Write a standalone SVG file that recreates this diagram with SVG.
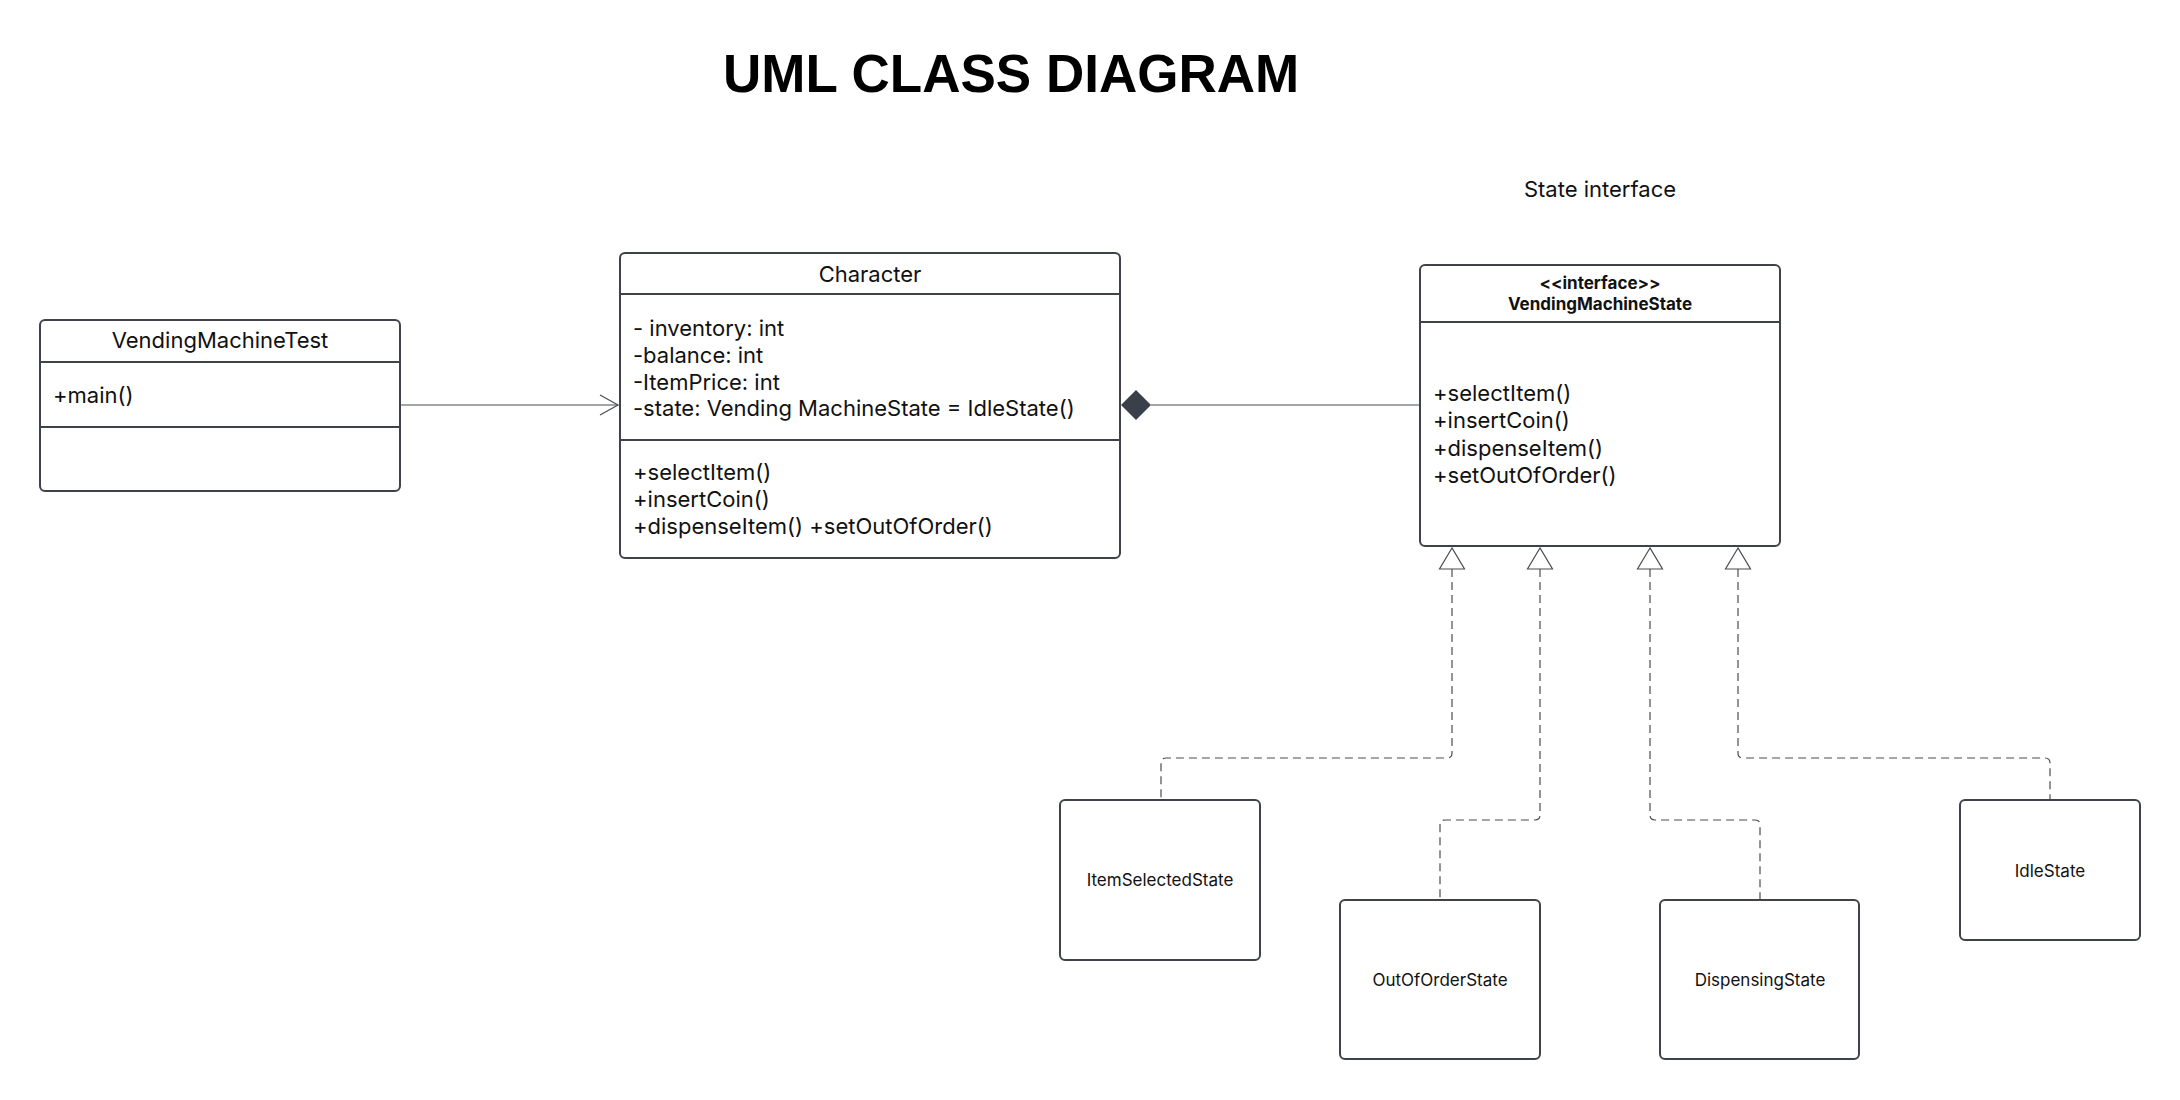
<svg xmlns="http://www.w3.org/2000/svg" width="2180" height="1100" viewBox="0 0 2180 1100">
<style>
.box{fill:#fff;stroke:#3f4249;stroke-width:2}
.div{stroke:#3f4249;stroke-width:2}
.t{font-family:Inter,"Noto Sans","Liberation Sans",sans-serif;font-size:22px;fill:#111}
.c{text-anchor:middle}
.s{font-size:17px}
.b{font-weight:bold;font-size:17px}
.con{fill:none;stroke:#4a4d52;stroke-width:1.2}
.dash{stroke-dasharray:8 5}
.tri{fill:#fff;stroke:#4a4d52;stroke-width:1.2}
</style>
<rect width="2180" height="1100" fill="#fff"/>
<text x="723" y="92" font-family="Liberation Sans,Arial,sans-serif" font-weight="bold" font-size="53" fill="#000">UML CLASS DIAGRAM</text>
<text class="t c" x="1600" y="197">State interface</text>

<g id="connectors">
  <path class="con" d="M400,405 H618"/>
  <path class="con" d="M600,395 L618,405 L600,415"/>
  <polygon points="1121,405 1136,390 1151,405 1136,420" fill="#3a404a"/>
  <path class="con" d="M1151,405 H1420"/>
  <path class="con dash" d="M1452,569 V753 Q1452,758 1447,758 H1166 Q1161,758 1161,763 V800"/>
  <path class="con dash" d="M1540,569 V815 Q1540,820 1535,820 H1445 Q1440,820 1440,825 V900"/>
  <path class="con dash" d="M1650,569 V815 Q1650,820 1655,820 H1755 Q1760,820 1760,825 V900"/>
  <path class="con dash" d="M1738,569 V753 Q1738,758 1743,758 H2045 Q2050,758 2050,763 V800"/>
  <polygon class="tri" points="1452,548 1439.5,569 1464.5,569"/>
  <polygon class="tri" points="1540,548 1527.5,569 1552.5,569"/>
  <polygon class="tri" points="1650,548 1637.5,569 1662.5,569"/>
  <polygon class="tri" points="1738,548 1725.5,569 1750.5,569"/>
</g>

<g id="VendingMachineTest">
  <rect class="box" x="40" y="320" width="360" height="171" rx="5"/>
  <line class="div" x1="40" y1="362" x2="400" y2="362"/>
  <line class="div" x1="40" y1="427" x2="400" y2="427"/>
  <text class="t c" x="220" y="348">VendingMachineTest</text>
  <text class="t" x="53" y="403">+main()</text>
</g>

<g id="Character">
  <rect class="box" x="620" y="253" width="500" height="305" rx="5"/>
  <line class="div" x1="620" y1="294" x2="1120" y2="294"/>
  <line class="div" x1="620" y1="440" x2="1120" y2="440"/>
  <text class="t c" x="870" y="282">Character</text>
  <text class="t" x="633" y="336">- inventory: int</text>
  <text class="t" x="633" y="363">-balance: int</text>
  <text class="t" x="633" y="390">-ItemPrice: int</text>
  <text class="t" x="633" y="416">-state: Vending MachineState = IdleState()</text>
  <text class="t" x="633" y="480">+selectItem()</text>
  <text class="t" x="633" y="507">+insertCoin()</text>
  <text class="t" x="633" y="534">+dispenseItem() +setOutOfOrder()</text>
</g>

<g id="VendingMachineState">
  <rect class="box" x="1420" y="265" width="360" height="281" rx="5"/>
  <line class="div" x1="1420" y1="322" x2="1780" y2="322"/>
  <text class="t c b" x="1600" y="289">&lt;&lt;interface&gt;&gt;</text>
  <text class="t c b" x="1600" y="310">VendingMachineState</text>
  <text class="t" x="1433" y="401">+selectItem()</text>
  <text class="t" x="1433" y="428">+insertCoin()</text>
  <text class="t" x="1433" y="456">+dispenseItem()</text>
  <text class="t" x="1433" y="483">+setOutOfOrder()</text>
</g>

<g id="ItemSelectedState">
  <rect class="box" x="1060" y="800" width="200" height="160" rx="5"/>
  <text class="t c s" x="1160" y="886">ItemSelectedState</text>
</g>

<g id="OutOfOrderState">
  <rect class="box" x="1340" y="900" width="200" height="159" rx="5"/>
  <text class="t c s" x="1440" y="986">OutOfOrderState</text>
</g>

<g id="DispensingState">
  <rect class="box" x="1660" y="900" width="199" height="159" rx="5"/>
  <text class="t c s" x="1760" y="986">DispensingState</text>
</g>

<g id="IdleState">
  <rect class="box" x="1960" y="800" width="180" height="140" rx="5"/>
  <text class="t c s" x="2050" y="877">IdleState</text>
</g>
</svg>
